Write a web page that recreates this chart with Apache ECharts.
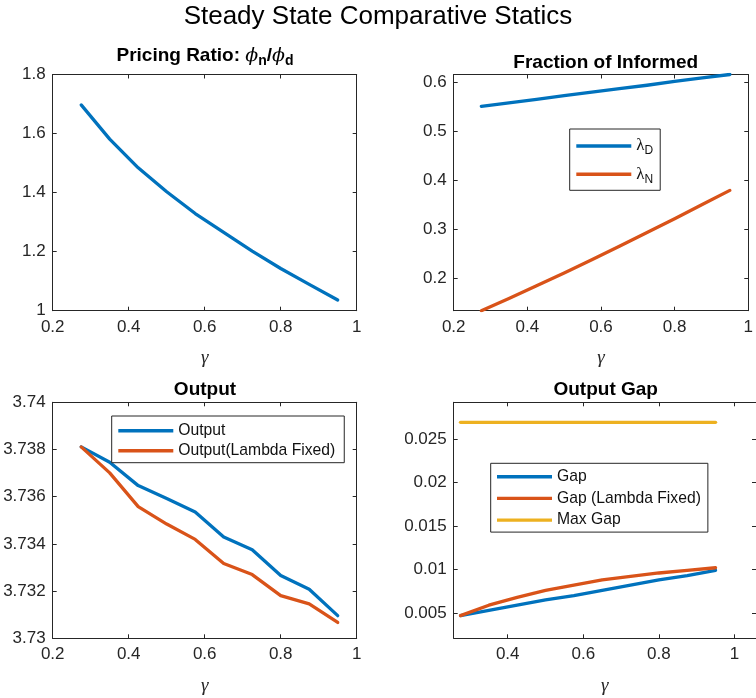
<!DOCTYPE html>
<html>
<head>
<meta charset="utf-8">
<script src="https://cdn.jsdelivr.net/npm/echarts@6/dist/echarts.min.js"></script>
<style>
  html, body { margin: 0; padding: 0; background: #fff; }
  #chart { width: 756px; height: 698px; }
</style>
</head>
<body>
<div id="chart"></div>
<script>
// gamma grid shared by every panel
const gamma = [0.275, 0.35, 0.425, 0.5, 0.575, 0.65, 0.725, 0.8, 0.875, 0.95];

// Pricing ratio phi_n / phi_d
const pricingRatio = [1.697, 1.581, 1.484, 1.403, 1.329, 1.265, 1.202, 1.143, 1.089, 1.036];

// Fraction of informed agents
const lambdaD = [0.551, 0.558, 0.565, 0.573, 0.580, 0.587, 0.594, 0.602, 0.609, 0.616];
const lambdaN = [0.133, 0.158, 0.184, 0.210, 0.237, 0.265, 0.293, 0.321, 0.350, 0.379];

// Output
const output      = [3.73811, 3.73746, 3.73647, 3.73592, 3.73535, 3.73429, 3.73375, 3.73266, 3.73208, 3.73096];
const outputFixed = [3.73811, 3.73701, 3.73558, 3.73484, 3.73419, 3.73317, 3.73270, 3.73181, 3.73146, 3.73067];

// Output gap
const gap      = [0.0047, 0.0053, 0.0059, 0.0065, 0.0070, 0.0076, 0.0082, 0.0088, 0.0093, 0.0099];
const gapFixed = [0.0047, 0.0059, 0.0068, 0.0076, 0.0082, 0.0088, 0.0092, 0.0096, 0.0099, 0.0102];
const maxGap   = [0.0269, 0.0269, 0.0269, 0.0269, 0.0269, 0.0269, 0.0269, 0.0269, 0.0269, 0.0269];

// tick values
const xTicks          = [0.2, 0.4, 0.6, 0.8, 1];
const xTicksGap       = [0.4, 0.6, 0.8, 1];
const yTicksRatio     = [1, 1.2, 1.4, 1.6, 1.8];
const yTicksInformed  = [0.2, 0.3, 0.4, 0.5, 0.6];
const yTicksOutput    = [3.73, 3.732, 3.734, 3.736, 3.738, 3.74];
const yTicksGap       = [0.005, 0.01, 0.015, 0.02, 0.025];

const INK = '#262626';
const SANS = '"Liberation Sans", Arial, Helvetica, sans-serif';
const SERIF = '"Liberation Serif", "DejaVu Serif", serif';
const BLUE = '#0072BD', ORANGE = '#D95319', YELLOW = '#EDB120';

const grids = [
  { left: 52.7,  top: 74.5,  width: 304, height: 236.2 },
  { left: 453.7, top: 74.5,  width: 304, height: 236.2 },
  { left: 52.7,  top: 402.3, width: 304, height: 236 },
  { left: 453.7, top: 402.3, width: 304, height: 236 }
];

// main axis (labelled) plus a mirrored axis giving the boxed look with inward ticks
function axisPair(dim, gi, min, max, ticks, withName) {
  const isX = dim === 'x';
  const make = (mirror) => ({
    type: 'value',
    gridIndex: gi,
    min: min,
    max: max,
    position: isX ? (mirror ? 'top' : 'bottom') : (mirror ? 'right' : 'left'),
    axisLine: { show: true, onZero: false, lineStyle: { color: INK, width: 1 } },
    axisTick: { show: true, inside: true, length: 4, lineStyle: { color: INK, width: 1 }, customValues: ticks },
    axisLabel: mirror ? { show: false } : {
      show: true, customValues: ticks, color: INK, fontSize: 17, fontFamily: SANS,
      margin: isX ? 8 : 7
    },
    splitLine: { show: false },
    name: (!mirror && isX && withName) ? 'γ' : '',
    nameLocation: 'middle',
    nameGap: 38,
    nameTextStyle: { fontFamily: SERIF, fontStyle: 'italic', fontSize: 19, color: INK }
  });
  return [make(false), make(true)];
}

const xAxes = [].concat(
  axisPair('x', 0, 0.2, 1, xTicks, true),
  axisPair('x', 1, 0.2, 1, xTicks, true),
  axisPair('x', 2, 0.2, 1, xTicks, true),
  axisPair('x', 3, 0.257, 1.057, xTicksGap, true)
);
const yAxes = [].concat(
  axisPair('y', 0, 1, 1.8, yTicksRatio),
  axisPair('y', 1, Math.min(...lambdaN), Math.max(...lambdaD), yTicksInformed),
  axisPair('y', 2, 3.73, 3.74, yTicksOutput),
  axisPair('y', 3, 0.0021, 0.0292, yTicksGap)
);

function pts(ys) { return gamma.map((g, i) => [g, ys[i]]); }
function line(name, gi, ys, color) {
  return {
    type: 'line', name: name,
    xAxisIndex: 2 * gi, yAxisIndex: 2 * gi,
    data: pts(ys),
    symbol: 'none', showSymbol: false,
    lineStyle: { color: color, width: 3.3, cap: 'round', join: 'round' },
    itemStyle: { color: color },
    emphasis: { disabled: true },
    silent: true,
    z: 3
  };
}

const legendBase = {
  orient: 'vertical',
  icon: 'rect',
  itemWidth: 55,
  itemHeight: 3.4,
  selectedMode: false,
  backgroundColor: '#fff',
  borderColor: INK,
  borderWidth: 1,
  borderRadius: 0,
  textStyle: { fontSize: 15.7, fontFamily: SANS, color: '#111', lineHeight: 16 }
};

const option = {
  animation: false,
  backgroundColor: '#fff',
  grid: grids,
  xAxis: xAxes,
  yAxis: yAxes,
  series: [
    line('ratio', 0, pricingRatio, BLUE),
    line('λD', 1, lambdaD, BLUE),
    line('λN', 1, lambdaN, ORANGE),
    line('Output', 2, output, BLUE),
    line('Output(Lambda Fixed)', 2, outputFixed, ORANGE),
    line('Gap', 3, gap, BLUE),
    line('Gap (Lambda Fixed)', 3, gapFixed, ORANGE),
    line('Max Gap', 3, maxGap, YELLOW)
  ],
  legend: [
    Object.assign({}, legendBase, {
      data: ['λD', 'λN'],
      left: 569.7, top: 129,
      itemGap: 6.3,
      padding: [6, 7, 5, 6.6],
      formatter: (n) => '{l|λ}{s|' + n.slice(1) + '}',
      textStyle: {
        fontSize: 15.5, fontFamily: SANS, color: '#111', lineHeight: 22,
        rich: {
          l: { fontFamily: SERIF, fontSize: 17, lineHeight: 22, color: '#111' },
          s: { fontFamily: SANS, fontSize: 12, lineHeight: 12, verticalAlign: 'bottom', color: '#111' }
        }
      }
    }),
    Object.assign({}, legendBase, {
      data: ['Output', 'Output(Lambda Fixed)'],
      left: 111.7, top: 416,
      itemGap: 4,
      padding: [6.7, 9, 4, 6.6]
    }),
    Object.assign({}, legendBase, {
      data: ['Gap', 'Gap (Lambda Fixed)', 'Max Gap'],
      left: 490.7, top: 463.3,
      itemGap: 5.7,
      padding: [5.4, 7, 4, 6.3]
    })
  ],
  graphic: [
    { type: 'text', x: 378, y: 17, style: {
        text: 'Steady State Comparative Statics', fontSize: 26, fontFamily: SANS,
        fill: '#000', align: 'center', verticalAlign: 'middle' } },
    { type: 'text', x: 205, y: 56, style: {
        text: '{t|Pricing Ratio: }{p|ϕ}{s|n}{t|/}{p|ϕ}{s|d}',
        align: 'center', verticalAlign: 'middle', fill: '#000',
        rich: {
          t: { fontFamily: SANS, fontWeight: 'bold', fontSize: 19, lineHeight: 24, fill: '#000' },
          p: { fontFamily: '"DejaVu Serif", serif', fontStyle: 'italic', fontSize: 19, lineHeight: 24, fill: '#000' },
          s: { fontFamily: SANS, fontWeight: 'bold', fontSize: 14, lineHeight: 14, verticalAlign: 'bottom', fill: '#000' }
        } } },
    { type: 'text', x: 605.7, y: 63, style: {
        text: 'Fraction of Informed', fontSize: 19, fontWeight: 'bold', fontFamily: SANS,
        fill: '#000', align: 'center', verticalAlign: 'middle' } },
    { type: 'text', x: 205, y: 390, style: {
        text: 'Output', fontSize: 19, fontWeight: 'bold', fontFamily: SANS,
        fill: '#000', align: 'center', verticalAlign: 'middle' } },
    { type: 'text', x: 605.7, y: 390, style: {
        text: 'Output Gap', fontSize: 19, fontWeight: 'bold', fontFamily: SANS,
        fill: '#000', align: 'center', verticalAlign: 'middle' } }
  ]
};

const chart = echarts.init(document.getElementById('chart'), null, { renderer: 'canvas' });
chart.setOption(option);
</script>
</body>
</html>
